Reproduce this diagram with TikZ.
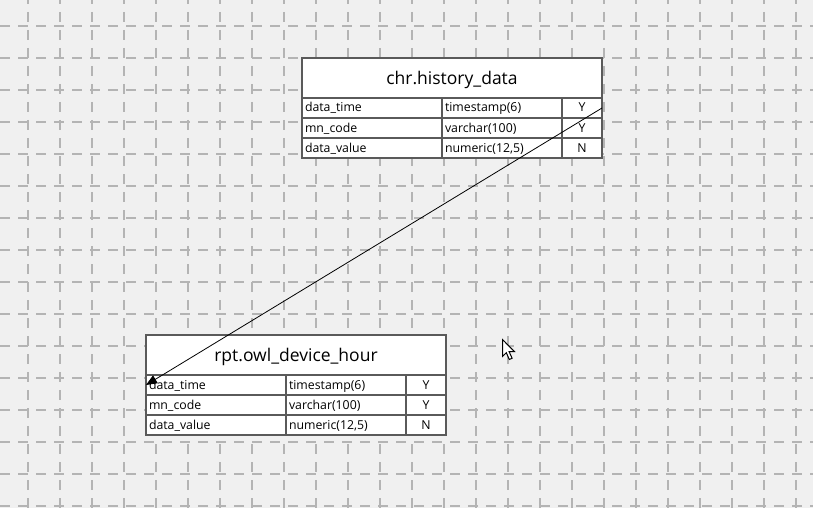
\documentclass[tikz,border=0pt]{standalone}
\usepackage{fontspec}
\setmainfont{Open Sans}
\usetikzlibrary{arrows.meta}
\definecolor{bg}{HTML}{F0F0F0}
\definecolor{gridc}{HTML}{B4B4B4}
\definecolor{bordc}{HTML}{5A5A5A}
\tikzset{
  gridv/.style={draw=gridc, line width=2pt, dash pattern=on 10pt off 8pt, dash phase=6pt},
  gridh/.style={draw=gridc, line width=2pt, dash pattern=on 10pt off 8pt},
  hdr/.style={draw=bordc, fill=white, line width=1.5pt, minimum width=300pt, minimum height=40pt, inner sep=0pt, outer sep=0pt, text height=14pt, text depth=1pt, font=\fontsize{17.5}{20}\selectfont, anchor=north west},
  cellL/.style={draw=bordc, fill=white, line width=1.5pt, minimum height=20pt, inner xsep=3pt, inner ysep=0pt, outer sep=0pt, align=left, text height=10pt, text depth=2pt, font=\fontsize{12.3}{14}\selectfont, anchor=north west},
  cellC/.style={draw=bordc, fill=white, line width=1.5pt, minimum height=20pt, minimum width=40pt, inner sep=0pt, outer sep=0pt, text height=10pt, text depth=2pt, font=\fontsize{12.3}{14}\selectfont, anchor=north west},
  link/.style={draw=black, line width=0.8pt, -{Triangle[length=11pt,width=9pt]}},
  cursorshape/.style={draw=black, fill=white, line width=1pt, line join=miter}
}
\newcommand\erdtab[4]{%
  \node[hdr] (#1-h) at (#2,#3) {#4};
  \foreach \a/\b/\c [count=\i] in {data\_time/timestamp(6)/Y, mn\_code/varchar(100)/Y, data\_value/{numeric(12,5)}/N}{
    \node[cellL, text width=134pt] (#1-\i-1) at (#2, #3+40+20*\i-20) {\a};
    \node[cellL, text width=114pt] (#1-\i-2) at (#2+140, #3+40+20*\i-20) {\b};
    \node[cellC] (#1-\i-3) at (#2+260, #3+40+20*\i-20) {\c};
  }%
}
\begin{document}
\begin{tikzpicture}[x=1pt,y=-1pt]
\fill[bg] (0,0) rectangle (813,508);
\useasboundingbox (0,0) rectangle (813,508);
\foreach \k in {0,...,24}{\draw[gridv] (28+32*\k,0) -- (28+32*\k,508);}
\foreach \k in {0,...,15}{\draw[gridh] (0,26+32*\k) -- (813,26+32*\k);}
\erdtab{src}{302}{58}{chr.history\_data}
\erdtab{dst}{146}{335}{rpt.owl\_device\_hour}
\draw[link] (src-1-3.east) -- (dst-1-1.west);
\coordinate (cur) at (502.5,339.5);
\draw[cursorshape] (cur) -- ++(0,17) -- ++(3.8,-3.8) -- ++(3,6.8) -- ++(2.8,-1.3) -- ++(-3,-6.5) -- ++(5.4,0) -- cycle;
\end{tikzpicture}
\end{document}
